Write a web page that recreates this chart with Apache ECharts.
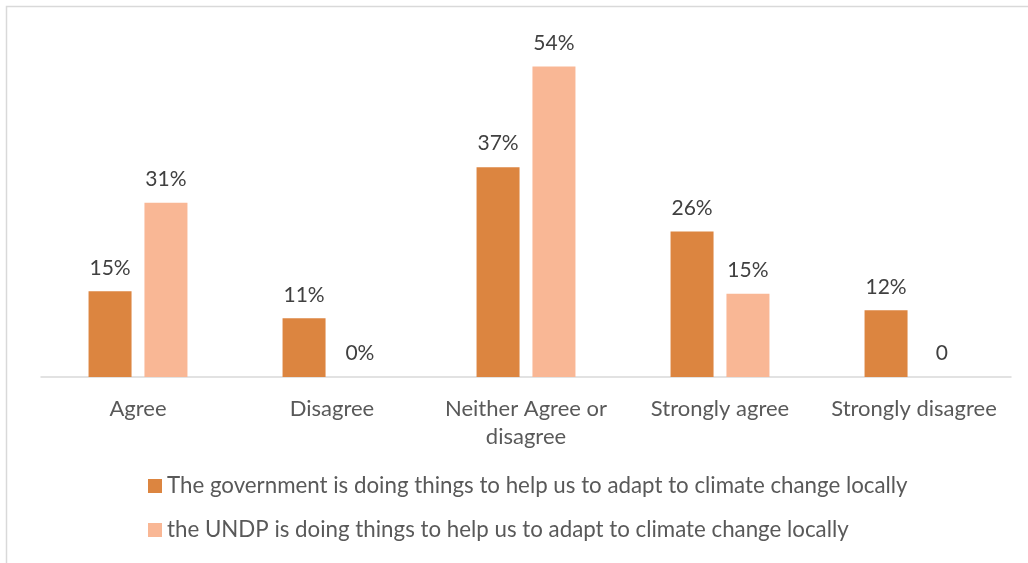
<!DOCTYPE html>
<html><head><meta charset="utf-8">
<script src="https://cdn.jsdelivr.net/npm/echarts@6/dist/echarts.min.js"></script>
<style>html,body{margin:0;padding:0;background:#fff}#c{width:1028px;height:563px}</style>
</head><body><div id="c"></div>
<script>
const categories = ['Agree', 'Disagree', 'Neither Agree or\ndisagree', 'Strongly agree', 'Strongly disagree'];
const seriesNames = ['The government is doing things to help us to adapt to climate change locally',
  'the UNDP is doing things to help us to adapt to climate change locally'];
const govValues = [14.9, 10.2, 36.5, 25.3, 11.6];
const undpValues = [30.3, 0, 54.0, 14.5, 0];
const govLabels = ['15%', '11%', '37%', '26%', '12%'];
const undpLabels = ['31%', '0%', '54%', '15%', '0'];

const FONT = 'Lato';
const chart = echarts.init(document.getElementById('c'), null, {renderer: 'canvas'});
function lbl(arr) {
  return {show: true, position: 'top', distance: 13, color: '#404040', fontSize: 21, fontFamily: FONT,
    formatter: p => arr[p.dataIndex]};
}
chart.setOption({
  animation: false,
  textStyle: {fontFamily: FONT},
  graphic: [{type: 'rect', shape: {x: 6.5, y: 6.5, width: 1100, height: 700}, style: {fill: 'none', stroke: '#d9d9d9', lineWidth: 1.5}, silent: true, z: -1}],
  grid: {left: 41, right: 17, top: 32, height: 345, containLabel: false},
  legend: {orient: 'vertical', left: 143, top: 470, itemWidth: 14, itemHeight: 14, itemGap: 22, icon: 'rect',
    textStyle: {fontSize: 22.3, color: '#595959', fontFamily: FONT, lineHeight: 22},
    data: seriesNames},
  xAxis: {type: 'category', data: categories,
    axisLine: {lineStyle: {color: '#d9d9d9', width: 1.5}}, axisTick: {show: false},
    axisLabel: {color: '#595959', fontSize: 22, fontFamily: FONT, lineHeight: 28, margin: 18, interval: 0}},
  yAxis: {type: 'value', min: 0, max: 60, show: false, splitLine: {show: false}},
  series: [
    {name: seriesNames[0], type: 'bar', data: govValues, barWidth: 43, barGap: '30%', itemStyle: {color: '#dc8540'}, label: lbl(govLabels)},
    {name: seriesNames[1], type: 'bar', data: undpValues, barWidth: 43, itemStyle: {color: '#f9b795'}, label: lbl(undpLabels)}
  ]
});
</script></body></html>
